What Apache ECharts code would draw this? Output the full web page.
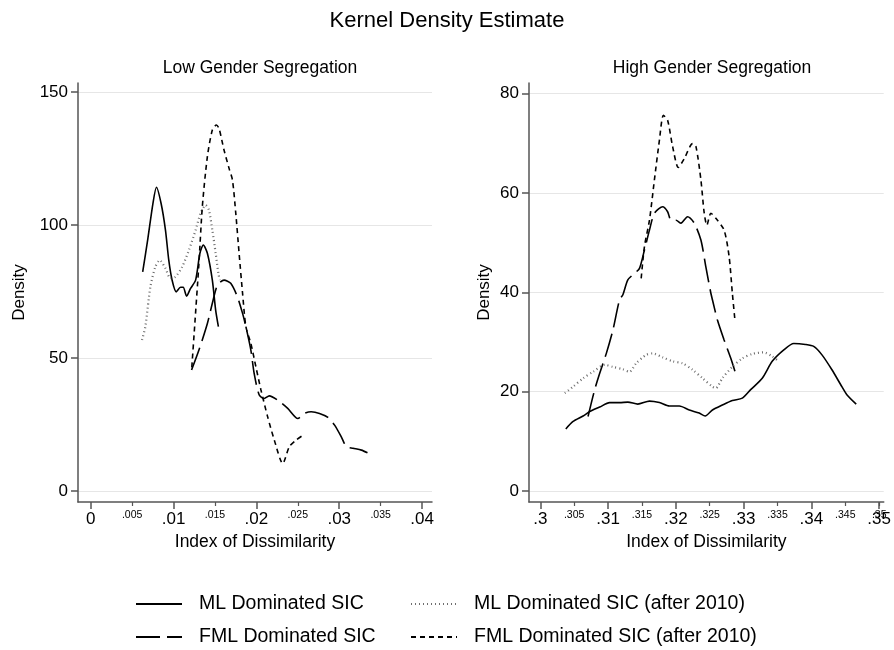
<!DOCTYPE html>
<html>
<head>
<meta charset="utf-8">
<script src="https://cdn.jsdelivr.net/npm/echarts@6/dist/echarts.min.js"></script>
<style>html,body{margin:0;padding:0;background:#fff}#chart{width:894px;height:650px}</style>
</head>
<body>
<div id="chart"></div>
<script>
// ---- Data ----
const seriesNames = ['ML Dominated SIC', 'FML Dominated SIC', 'ML Dominated SIC (after 2010)', 'FML Dominated SIC (after 2010)'];
const panelTitles = ['Low Gender Segregation', 'High Gender Segregation'];

const lowMajorTicks = [0, 0.01, 0.02, 0.03, 0.04];
const lowMinorTicks = [0.005, 0.015, 0.025, 0.035];
const lowYTicks = [0, 50, 100, 150];
const highMajorTicks = [0.3, 0.31, 0.32, 0.33, 0.34, 0.35];
const highMinorTicks = [0.305, 0.315, 0.325, 0.335, 0.345, 0.35];
const highYTicks = [0, 20, 40, 60, 80];

const lowML = [[0.00627,82.4],[0.0069,95],[0.0075,108],[0.00793,114.2],[0.0085,108],[0.00902,98.1],[0.00942,86.8],[0.00982,79.3],[0.01032,74.9],[0.01084,76.6],[0.01116,76.6],[0.01157,73.3],[0.01205,76.2],[0.01266,79.3],[0.01318,89.4],[0.01359,92.5],[0.01408,89.4],[0.01468,79.3],[0.01508,68],[0.01541,61.8]];
const lowMLafter = [[0.00619,56.8],[0.00659,61.8],[0.0072,76.8],[0.0078,84.3],[0.00833,86.8],[0.00902,83.7],[0.00962,80],[0.01023,80.6],[0.01104,84.3],[0.01185,90.6],[0.01266,98.1],[0.01326,104.4],[0.01387,107.5],[0.01427,105.6],[0.01468,98.1],[0.01508,89.4],[0.01541,81.8],[0.01557,79.3]];
const lowFML = [[0.01217,45.5],[0.01306,53],[0.01408,63],[0.01468,70.6],[0.01529,77.4],[0.01609,79.3],[0.0169,78.1],[0.01771,73],[0.01833,66.8],[0.01873,61.8],[0.01933,53],[0.01973,44.2],[0.02034,36.1],[0.02095,34.8],[0.02155,35.8],[0.02257,34.2],[0.02378,31.1],[0.025,27.3],[0.0258,29.2],[0.02661,29.8],[0.02762,29.2],[0.02864,27.7],[0.02944,24.8],[0.03025,20.4],[0.03086,16.7],[0.03167,16.1],[0.03268,15.4],[0.03341,14.4]];
const lowFMLafter = [[0.0122,46.5],[0.01254,61.8],[0.01306,85.6],[0.01347,106.9],[0.01408,125.7],[0.01468,135.7],[0.01517,137.6],[0.01549,136.3],[0.01609,128.2],[0.0167,121.3],[0.01711,116.9],[0.01751,104.4],[0.01791,89.4],[0.01833,74.3],[0.01873,61.8],[0.01933,55.5],[0.01994,46.7],[0.02055,38],[0.02136,27.9],[0.02216,19.2],[0.02318,10.4],[0.02398,16.7],[0.02479,19.2],[0.02549,20.7]];

const highML = [[0.30377,12.5],[0.30485,14],[0.30632,15.1],[0.3073,16],[0.30877,16.9],[0.31023,17.8],[0.3117,17.8],[0.31292,17.9],[0.31439,17.5],[0.31611,18.1],[0.31758,17.8],[0.31905,17.1],[0.32052,17.1],[0.32199,16.3],[0.32345,15.7],[0.32433,15.1],[0.3254,16.3],[0.32687,17.3],[0.32834,18.2],[0.32981,18.7],[0.33104,20.4],[0.33275,22.7],[0.33422,26.1],[0.33593,28.4],[0.3374,29.7],[0.33912,29.5],[0.34034,29.1],[0.34156,27.4],[0.34303,24.4],[0.3445,21],[0.34523,19.4],[0.34661,17.5]];
const highMLafter = [[0.30363,19.7],[0.30485,21],[0.30632,22.7],[0.30778,24],[0.3095,25.4],[0.31072,25],[0.31219,24.5],[0.31317,24],[0.31415,25.7],[0.31562,27.4],[0.31659,27.7],[0.31806,26.9],[0.31953,26.1],[0.321,25.7],[0.32247,24.4],[0.32394,22.7],[0.3254,21],[0.3259,20.7],[0.32687,22.7],[0.32834,25],[0.32981,26.7],[0.33128,27.6],[0.33299,27.9],[0.33422,27.1],[0.3352,26.1]];
const highFML = [[0.30705,15],[0.30803,20.4],[0.30877,23.7],[0.30975,27.7],[0.31072,32.4],[0.3117,38.5],[0.31219,39.5],[0.31292,42.5],[0.3139,43.8],[0.31464,44.8],[0.31537,48.5],[0.31611,52.5],[0.31684,55.9],[0.31806,57.2],[0.31879,56.2],[0.31929,54.5],[0.32003,54.5],[0.32076,53.9],[0.32173,55.2],[0.32272,53.9],[0.3237,50.5],[0.32443,45.1],[0.32517,39.8],[0.3254,38.5],[0.32614,34.4],[0.32712,30.4],[0.32811,26.7],[0.32874,24]];
const highFMLafter = [[0.31489,42.8],[0.31537,49.2],[0.31611,54.5],[0.31684,62.6],[0.31758,70.6],[0.31817,75.6],[0.31879,74.6],[0.31953,69.3],[0.32037,65.1],[0.32125,66.9],[0.32247,69.9],[0.32297,69.3],[0.3237,62.6],[0.32419,55.9],[0.32458,53.5],[0.32517,55.9],[0.3259,54.9],[0.32712,52.5],[0.32786,47.2],[0.32834,39.8],[0.32874,34.1]];

// ---- Styling ----
const FONT = '"Liberation Sans", Arial, Helvetica, sans-serif';
const AXIS_COLOR = '#555';
const styles = {
  'ML Dominated SIC': { color: '#000', type: 'solid', width: 1.6 },
  'FML Dominated SIC': { color: '#000', type: [24, 7], width: 1.6 },
  'ML Dominated SIC (after 2010)': { color: '#6e6e6e', type: [1, 3], width: 2.2 },
  'FML Dominated SIC (after 2010)': { color: '#000', type: [5, 4], width: 1.6 }
};

function fmt(v) {
  let s = String(+(+v).toFixed(4));
  if (s.indexOf('0.') === 0) s = s.slice(1);
  return s;
}

function majorX(gridIndex, min, max, ticks, name) {
  return {
    type: 'value', gridIndex, min, max, position: 'bottom',
    name, nameLocation: 'middle', nameGap: 29,
    nameTextStyle: { fontFamily: FONT, fontSize: 17.5, color: '#000' },
    axisLine: { show: true, onZero: false, lineStyle: { color: AXIS_COLOR, width: 1.5 } },
    axisTick: { show: true, length: 7, customValues: ticks, lineStyle: { color: AXIS_COLOR, width: 1.5 } },
    axisLabel: { customValues: ticks, formatter: fmt, fontFamily: FONT, fontSize: 17, color: '#000', margin: 9 },
    splitLine: { show: false }
  };
}
function minorX(gridIndex, min, max, ticks) {
  return {
    type: 'value', gridIndex, min, max, position: 'bottom',
    axisLine: { show: false, onZero: false },
    axisTick: { show: true, length: 4, customValues: ticks, lineStyle: { color: AXIS_COLOR, width: 1.2 } },
    axisLabel: { customValues: ticks, formatter: fmt, fontFamily: FONT, fontSize: 10.5, color: '#000', margin: 8 },
    splitLine: { show: false }
  };
}
function yAx(gridIndex, min, max, ticks, nameGap) {
  return {
    type: 'value', gridIndex, min, max, position: 'left',
    name: 'Density', nameLocation: 'middle', nameGap, nameRotate: 90,
    nameTextStyle: { fontFamily: FONT, fontSize: 17, color: '#000' },
    axisLine: { show: true, onZero: false, lineStyle: { color: AXIS_COLOR, width: 1.5 } },
    axisTick: { show: true, length: 7, customValues: ticks, lineStyle: { color: AXIS_COLOR, width: 1.5 } },
    axisLabel: { customValues: ticks, fontFamily: FONT, fontSize: 17, color: '#000', margin: 10 },
    splitLine: { show: true, lineStyle: { color: '#e6e6e6', width: 1 } }
  };
}

function mkSeries(name, data, xi, yi) {
  const st = styles[name];
  return {
    name, type: 'line', data, xAxisIndex: xi, yAxisIndex: yi,
    symbol: 'none', smooth: 0.25, animation: false,
    lineStyle: { color: st.color, type: st.type, width: st.width },
    itemStyle: { color: st.color }
  };
}

const legendCommon = {
  orient: 'vertical', top: 593, height: 60, padding: 0,
  itemWidth: 46, itemHeight: 14, itemGap: 11,
  itemStyle: { color: 'rgba(0,0,0,0)', borderColor: 'rgba(0,0,0,0)', borderWidth: 0 },
  textStyle: { fontFamily: FONT, fontSize: 19.5, lineHeight: 22, color: '#000', padding: [0, 0, 0, 12] }
};

const chart = echarts.init(document.getElementById('chart'), null, { renderer: 'canvas' });
chart.setOption({
  backgroundColor: '#fff',
  animation: false,
  title: [
    { text: 'Kernel Density Estimate', left: 'center', top: 5, textStyle: { fontFamily: FONT, fontSize: 22, fontWeight: 'normal', color: '#000' } },
    { text: panelTitles[0], left: 255, top: 54, textAlign: 'center', textStyle: { fontFamily: FONT, fontSize: 17.5, fontWeight: 'normal', color: '#000' } },
    { text: panelTitles[1], left: 707, top: 54, textAlign: 'center', textStyle: { fontFamily: FONT, fontSize: 17.5, fontWeight: 'normal', color: '#000' } }
  ],
  grid: [
    { left: 78, top: 83, width: 354, height: 419 },
    { left: 529, top: 83, width: 357, height: 419 }
  ],
  xAxis: [
    majorX(0, -0.00154, 0.0412, lowMajorTicks, 'Index of Dissimilarity'),
    minorX(0, -0.00154, 0.0412, lowMinorTicks),
    majorX(1, 0.29834, 0.35067, highMajorTicks, 'Index of Dissimilarity'),
    minorX(1, 0.29834, 0.35067, highMinorTicks)
  ],
  yAxis: [
    yAx(0, -4.1, 153.4, lowYTicks, 50),
    yAx(1, -2.2, 82.1, highYTicks, 36)
  ],
  legend: [
    Object.assign({}, legendCommon, { left: 135, data: [seriesNames[0], seriesNames[1]] }),
    Object.assign({}, legendCommon, { left: 410, data: [seriesNames[2], seriesNames[3]] })
  ],
  series: [
    mkSeries(seriesNames[0], lowML, 0, 0),
    mkSeries(seriesNames[1], lowFML, 0, 0),
    mkSeries(seriesNames[2], lowMLafter, 0, 0),
    mkSeries(seriesNames[3], lowFMLafter, 0, 0),
    mkSeries(seriesNames[0], highML, 2, 1),
    mkSeries(seriesNames[1], highFML, 2, 1),
    mkSeries(seriesNames[2], highMLafter, 2, 1),
    mkSeries(seriesNames[3], highFMLafter, 2, 1)
  ]
});
</script>
</body>
</html>
